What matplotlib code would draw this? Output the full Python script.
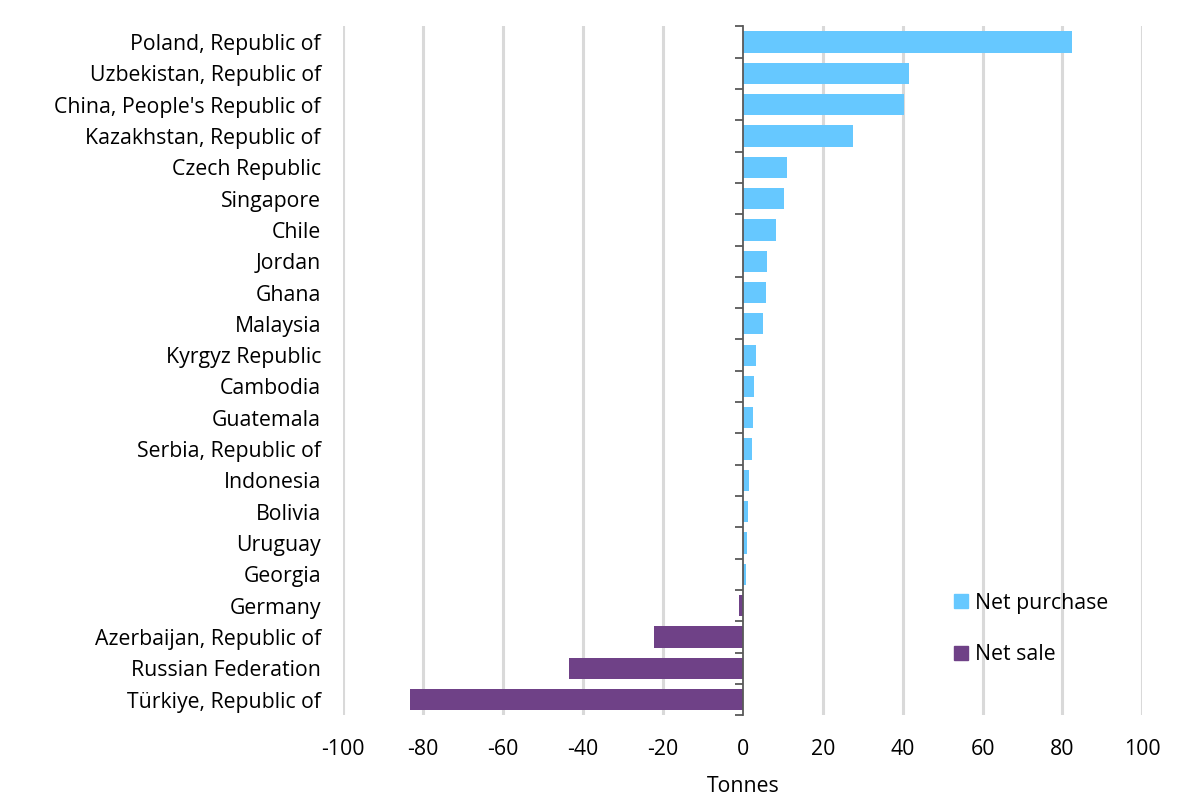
import matplotlib
matplotlib.use("Agg")
import matplotlib.pyplot as plt
from matplotlib.patches import Patch

# ── data (tonnes) ────────────────────────────────────────────────────────────
countries = [
    "Poland, Republic of", "Uzbekistan, Republic of",
    "China, People's Republic of", "Kazakhstan, Republic of",
    "Czech Republic", "Singapore", "Chile", "Jordan", "Ghana", "Malaysia",
    "Kyrgyz Republic", "Cambodia", "Guatemala", "Serbia, Republic of",
    "Indonesia", "Bolivia", "Uruguay", "Georgia", "Germany",
    "Azerbaijan, Republic of", "Russian Federation", "Türkiye, Republic of",
]
tonnes = [82.5, 41.6, 40.3, 27.5, 11.0, 10.2, 8.2, 6.0, 5.9, 5.1,
          3.3, 2.9, 2.5, 2.2, 1.6, 1.3, 1.1, 0.8, -0.9,
          -22.1, -43.6, -83.2]
xticks = [-100, -80, -60, -40, -20, 0, 20, 40, 60, 80, 100]

BLUE   = "#66c8ff"
PURPLE = "#6f4187"
GRID   = "#d9d9d9"
AXIS   = "#595959"
FS     = 15.3

plt.rcParams["font.family"] = ["Open Sans", "DejaVu Sans"]

fig = plt.figure(figsize=(12, 8), dpi=100)
ax = fig.add_axes([0.286, 0.106, 0.666, 0.861])

ypos = list(range(len(countries)))
pos = [(y, v) for y, v in zip(ypos, tonnes) if v >= 0]
neg = [(y, v) for y, v in zip(ypos, tonnes) if v < 0]
ax.barh([p[0] for p in pos], [p[1] for p in pos], height=0.68,
        color=BLUE, zorder=3)
ax.barh([n[0] for n in neg], [n[1] for n in neg], height=0.68,
        color=PURPLE, zorder=3)

ax.set_xlim(-100, 100)
ax.set_ylim(len(countries) - 0.5, -0.5)
ax.set_xticks(xticks)
ax.set_xticklabels([str(t) for t in xticks])
ax.set_yticks(ypos)
ax.set_yticklabels(countries)
ax.tick_params(axis="both", length=0, labelsize=FS, colors="black")
ax.tick_params(axis="y", pad=16)
ax.tick_params(axis="x", pad=17)
for s in ax.spines.values():
    s.set_visible(False)

# vertical gridlines (none at zero — the axis line sits there)
for t in xticks:
    if t != 0:
        ax.axvline(t, color=GRID, lw=2.2, zorder=1)

ax.set_xlabel("Tonnes", fontsize=FS, labelpad=12)

# zero axis with category-boundary ticks
ax2 = ax.twinx()
ax2.set_ylim(ax.get_ylim())
for name, s in ax2.spines.items():
    s.set_visible(name == "left")
ax2.spines["left"].set_position(("data", 0))
ax2.spines["left"].set_color(AXIS)
ax2.spines["left"].set_linewidth(1.3)
ax2.spines["left"].set_zorder(4)
ax2.yaxis.set_ticks_position("left")
ax2.set_yticks([y - 0.5 for y in ypos] + [len(countries) - 0.5])
ax2.set_yticklabels([])
ax2.tick_params(axis="y", length=6, width=1.3, color=AXIS, direction="out")
ax2.set_zorder(ax.get_zorder() + 1)
ax2.patch.set_visible(False)

handles = [Patch(color=BLUE, label="Net purchase"),
           Patch(color=PURPLE, label="Net sale")]
ax.legend(handles=handles, loc="upper left", bbox_to_anchor=(0.764, 0.178),
          frameon=False, fontsize=FS, handlelength=0.68, handleheight=0.68,
          handletextpad=0.3, labelspacing=1.45, borderpad=0, borderaxespad=0)

fig.savefig("out.png", dpi=100)
